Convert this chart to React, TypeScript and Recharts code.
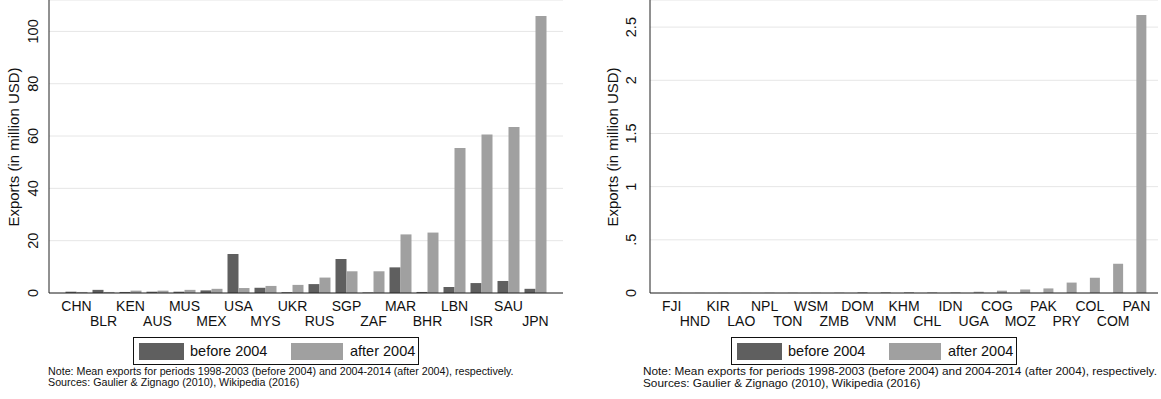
import { BarChart, Bar, XAxis, YAxis, CartesianGrid, Label } from 'recharts'

const FONT = '"Liberation Sans", Arial, Helvetica, sans-serif'

// left panel: countries with the largest post-2004 exports
const leftCountries = ['CHN', 'BLR', 'KEN', 'AUS', 'MUS', 'MEX', 'USA', 'MYS', 'UKR', 'RUS', 'SGP', 'ZAF', 'MAR', 'BHR', 'LBN', 'ISR', 'SAU', 'JPN']
const leftBefore = [0.5, 1.2, 0.4, 0.5, 0.5, 1.0, 14.9, 2.0, 0.3, 3.4, 13.0, 0.2, 9.8, 0.4, 2.3, 3.8, 4.6, 1.6]
const leftAfter = [0.4, 0.4, 0.9, 0.9, 1.2, 1.6, 1.9, 2.7, 3.1, 5.9, 8.3, 8.3, 22.4, 23.1, 55.4, 60.6, 63.5, 105.9]
const leftTicks = [0, 20, 40, 60, 80, 100]

// right panel: smaller exporters
const rightCountries = ['FJI', 'HND', 'KIR', 'LAO', 'NPL', 'TON', 'WSM', 'ZMB', 'DOM', 'VNM', 'KHM', 'CHL', 'IDN', 'UGA', 'COG', 'MOZ', 'PAK', 'PRY', 'COL', 'COM', 'PAN']
const rightBefore = [0, 0, 0, 0, 0, 0, 0, 0, 0, 0, 0, 0, 0, 0, 0, 0, 0, 0, 0, 0, 0]
const rightAfter = [0.001, 0.001, 0.001, 0.001, 0.002, 0.002, 0.002, 0.003, 0.008, 0.008, 0.008, 0.006, 0.006, 0.012, 0.022, 0.033, 0.043, 0.098, 0.144, 0.275, 2.615]
const rightTicks = [0, 0.5, 1, 1.5, 2, 2.5]

const DARK = '#5f5f5f'
const LIGHT = '#a0a0a0'
const NOTE = 'Note: Mean exports for periods 1998-2003 (before 2004) and 2004-2014 (after 2004), respectively.'
const SOURCES = 'Sources: Gaulier & Zignago (2010), Wikipedia (2016)'

const XTick = (props: any) => {
  const { x, payload, index } = props
  const i = payload?.index ?? index
  return (
    <text x={x} y={i % 2 === 0 ? 311 : 325.5} textAnchor="middle" fontSize={14} fill="#111" fontFamily={FONT}>
      {payload.value}
    </text>
  )
}

const makeYTick = (cx: number, fmt: (v: number) => string) => (props: any) => {
  const { y, payload } = props
  return (
    <text x={cx} y={y} transform={`rotate(-90 ${cx} ${y})`} textAnchor="middle" dominantBaseline="central" fontSize={14.5} fill="#111" fontFamily={FONT}>
      {fmt(payload.value)}
    </text>
  )
}

const fmtStata = (v: number) => (v > 0 && v < 1 ? String(v).replace(/^0/, '') : String(v))

function Legend({ left }: { left: number }) {
  return (
    <div style={{ position: 'absolute', left, top: 337, width: 284, height: 26, border: '1px solid #111', fontFamily: FONT, fontSize: 14.5, color: '#111' }}>
      <div style={{ position: 'absolute', left: 5, top: 5, width: 45, height: 17, background: DARK }} />
      <div style={{ position: 'absolute', left: 56, top: 5, lineHeight: '17px' }}>before 2004</div>
      <div style={{ position: 'absolute', left: 157, top: 5, width: 52, height: 17, background: LIGHT }} />
      <div style={{ position: 'absolute', left: 216, top: 5, lineHeight: '17px' }}>after 2004</div>
    </div>
  )
}

function Panel(p: {
  countries: string[]
  before: number[]
  after: number[]
  ticks: number[]
  top: number
  width: number
  yWidth: number
  marginRight: number
  pad: number
  gap: number
  tickX: number
  titleX: number
  legendLeft: number
  noteLeft: number
  noteSize: number
  noteLine: number
  noteTop: number
}) {
  const data = p.countries.map((c, i) => ({ name: c, before: p.before[i], after: p.after[i] }))
  return (
    <div style={{ position: 'relative', width: p.width, height: 399, overflow: 'hidden' }}>
      <BarChart width={p.width} height={330} data={data} margin={{ top: 0, right: p.marginRight, left: 0, bottom: 0 }} barGap={0} barCategoryGap={p.gap}>
        <CartesianGrid vertical={false} stroke="#e6e6e6" strokeWidth={1} />
        <XAxis dataKey="name" interval={0} height={37} tickLine={false} axisLine={{ stroke: '#222' }} padding={{ left: p.pad, right: p.pad }} tick={<XTick />} />
        <YAxis
          width={p.yWidth}
          domain={[0, p.top]}
          ticks={p.ticks}
          allowDataOverflow
          tickLine={false}
          axisLine={{ stroke: '#222' }}
          tick={makeYTick(p.tickX, fmtStata)}
        >
          <Label
            content={() => (
              <text x={p.titleX} y={147} transform={`rotate(-90 ${p.titleX} 147)`} textAnchor="middle" dominantBaseline="central" fontSize={15} fill="#111" fontFamily={FONT}>
                Exports (in million USD)
              </text>
            )}
          />
        </YAxis>
        <Bar dataKey="before" fill={DARK} isAnimationActive={false} />
        <Bar dataKey="after" fill={LIGHT} isAnimationActive={false} />
      </BarChart>
      <Legend left={p.legendLeft} />
      <div style={{ position: 'absolute', left: p.noteLeft, top: p.noteTop, fontFamily: FONT, fontSize: p.noteSize, lineHeight: `${p.noteLine}px`, color: '#111', whiteSpace: 'nowrap' }}>
        <div>{NOTE}</div>
        <div>{SOURCES}</div>
      </div>
    </div>
  )
}

export default function App() {
  return (
    <div style={{ position: 'absolute', left: 0, top: 0, width: 1161, height: 399, display: 'flex', background: '#fff', overflow: 'hidden' }}>
      <Panel
        countries={leftCountries}
        before={leftBefore}
        after={leftAfter}
        ticks={leftTicks}
        top={112}
        width={580}
        yWidth={49}
        marginRight={17}
        pad={14}
        gap={2.5}
        tickX={33}
        titleX={13}
        legendLeft={133}
        noteLeft={48}
        noteSize={10.7}
        noteLine={11}
        noteTop={366}
      />
      <Panel
        countries={rightCountries}
        before={rightBefore}
        after={rightAfter}
        ticks={rightTicks}
        top={2.755}
        width={581}
        yWidth={70}
        marginRight={3}
        pad={10}
        gap={1.6}
        tickX={51}
        titleX={32}
        legendLeft={151}
        noteLeft={63}
        noteSize={11.8}
        noteLine={12}
        noteTop={365}
      />
    </div>
  )
}
